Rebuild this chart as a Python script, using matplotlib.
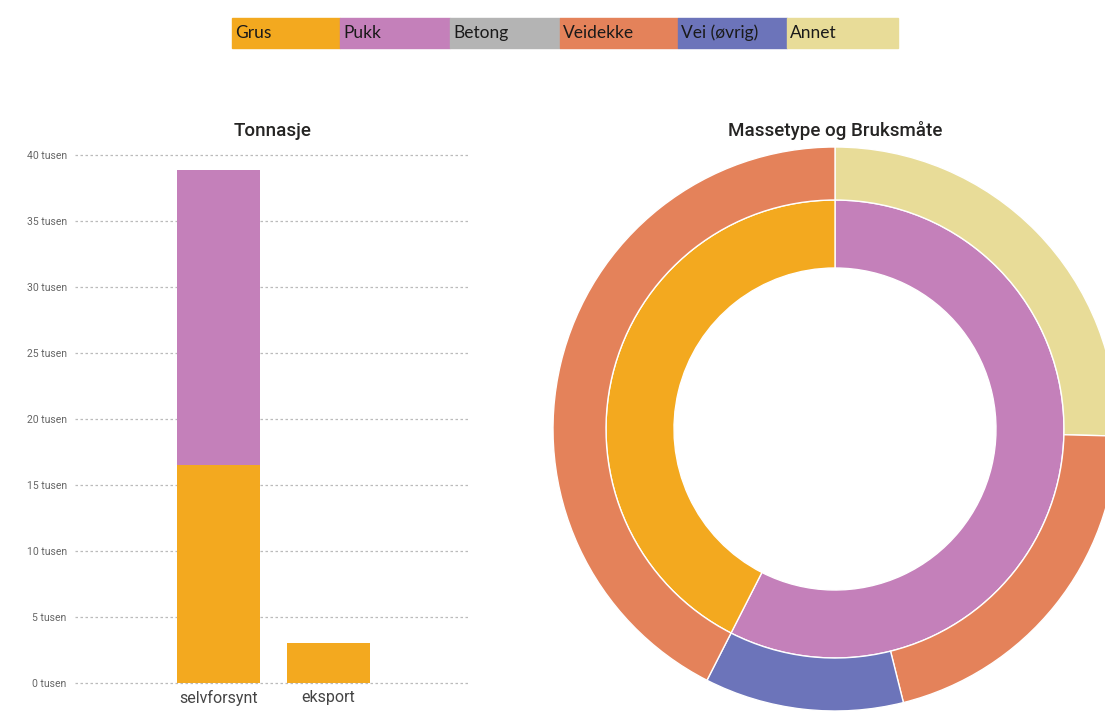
import matplotlib.pyplot as plt
from matplotlib.patches import Rectangle
from matplotlib.ticker import FuncFormatter

# Farger per kategori
legend_labels = ['Grus', 'Pukk', 'Betong', 'Veidekke', 'Vei (øvrig)', 'Annet']
legend_colors = ['#F3A91F', '#C480BA', '#B4B4B4', '#E4825A', '#6C74BA', '#E8DC98']
colors = dict(zip(legend_labels, legend_colors))

# Tonnasje (tonn)
bar_categories = ['selvforsynt', 'eksport']
grus_tonn = [16500, 3000]
pukk_tonn = [22400, 0]

# Sunburst: indre ring (massetype), ytre ring (bruksmåte)
inner_labels = ['Pukk', 'Grus']
inner_values = [57.5, 42.5]
outer_labels = ['Annet', 'Veidekke', 'Vei (øvrig)', 'Veidekke']
outer_values = [25.4, 20.7, 11.4, 42.5]

plt.rcParams['font.family'] = ['Roboto', 'DejaVu Sans']

W, H = 1105, 711
fig = plt.figure(figsize=(W / 100, H / 100), dpi=100)

def px(x0, y0, x1, y1):
    # pikselrektangel (fra toppen) -> figurkoordinater
    return [x0 / W, 1 - y1 / H, (x1 - x0) / W, (y1 - y0) / H]

# --- Legende øverst ---
box_w = [108, 110, 110, 118, 109, 111]
x = 232
for lab, col, bw in zip(legend_labels, legend_colors, box_w):
    fig.patches.append(Rectangle((x / W, 1 - 48 / H), bw / W, 30 / H,
                                 transform=fig.transFigure, color=col, zorder=0))
    fig.text((x + 3) / W, 1 - 33 / H, lab, fontsize=12.5, color='#1a1a1a',
             va='center', ha='left', family=['Lato', 'DejaVu Sans'])
    x += bw

# --- Stolpediagram ---
ax = fig.add_axes(px(75, 155, 470, 683))
xs = range(len(bar_categories))
ax.bar(xs, grus_tonn, width=0.755, color=colors['Grus'], zorder=3)
ax.bar(xs, pukk_tonn, width=0.755, bottom=grus_tonn, color=colors['Pukk'], zorder=3)
ax.set_xlim(-1.305, 2.286)
ax.set_ylim(0, 40000)
ax.set_yticks(range(0, 40001, 5000))
ax.yaxis.set_major_formatter(FuncFormatter(lambda v, p: f"{int(v / 1000)} tusen"))
ax.set_xticks(list(xs))
ax.set_xticklabels(bar_categories, fontsize=11.5, color='#444444')
ax.tick_params(axis='y', labelsize=7.5, colors='#666666', length=0, pad=6)
ax.tick_params(axis='x', length=0, pad=5)
ax.grid(axis='y', color='#BBBBBB', linestyle=(0, (2, 2)), linewidth=0.9, zorder=0)
for gl in ax.get_ygridlines():
    gl.set_clip_on(False)
for s in ax.spines.values():
    s.set_visible(False)
ax.set_title('Tonnasje', fontsize=13.5, color='#252423', pad=14, fontweight='medium')

# --- Sunburst ---
R = 282
ax2 = fig.add_axes(px(835 - R, 429 - R, 835 + R, 429 + R))
ax2.pie(inner_values, radius=229 / R, startangle=90, counterclock=False,
        colors=[colors[l] for l in inner_labels],
        wedgeprops=dict(width=(229 - 161) / R, edgecolor='white', linewidth=1))
ax2.pie(outer_values, radius=1.0, startangle=90, counterclock=False,
        colors=[colors[l] for l in outer_labels],
        wedgeprops=dict(width=(282 - 229) / R, edgecolor='white', linewidth=1))
ax2.set_xlim(-1, 1)
ax2.set_ylim(-1, 1)
ax2.set_aspect('auto')
ax2.axis('off')
fig.text(835 / W, 1 - 130 / H, 'Massetype og Bruksmåte', fontsize=13.5,
         color='#252423', ha='center', va='center', fontweight='medium')

fig.savefig('out.png', dpi=100)
